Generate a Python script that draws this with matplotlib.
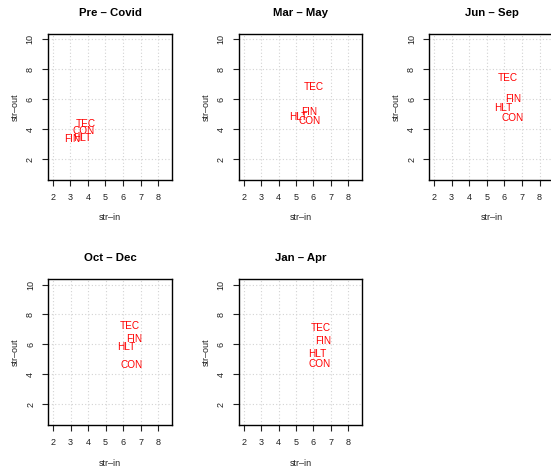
import matplotlib
matplotlib.use("Agg")
import matplotlib.pyplot as plt

plt.rcParams['font.family'] = ['Liberation Sans', 'DejaVu Sans']

titles = ["Pre – Covid", "Mar – May", "Jun – Sep", "Oct – Dec", "Jan – Apr"]
sectors = ["TEC", "CON", "FIN", "HLT"]
str_in = [
    [3.89, 3.74, 3.08, 3.65],
    [6.00, 5.77, 5.77, 5.11],
    [6.17, 6.49, 6.49, 5.96],
    [6.39, 6.49, 6.64, 6.20],
    [6.44, 6.34, 6.53, 6.21],
]
str_out = [
    [4.33, 3.89, 3.33, 3.40],
    [6.80, 4.57, 5.17, 4.80],
    [7.44, 4.73, 6.00, 5.40],
    [7.24, 4.64, 6.37, 5.84],
    [7.13, 4.67, 6.22, 5.33],
]
x_ticks = [2, 3, 4, 5, 6, 7, 8]
y_ticks = [2, 4, 6, 8, 10]

W, H = 551, 466
fig = plt.figure(figsize=(W / 100, H / 100), dpi=100)

# pixel boxes: left, right, top, bottom
boxes = [
    (48, 172.3, 34, 180),
    (239, 362.3, 34, 180),
    (429.3, 553.6, 34, 180),
    (48.3, 172.3, 279.3, 425),
    (239, 362.3, 279.3, 425),
]

for i, (l, r, t, b) in enumerate(boxes):
    ax = fig.add_axes([l / W, (H - b) / H, (r - l) / W, (b - t) / H])
    ax.set_xlim(1.73, 8.8)
    ax.set_ylim(0.62, 10.35)
    ax.set_xticks(x_ticks)
    ax.set_yticks(y_ticks)
    ax.grid(True, color='#d3d3d3', linestyle=(0, (1, 2)), linewidth=0.8)
    ax.set_axisbelow(True)
    for sp in ax.spines.values():
        sp.set_linewidth(1.0)
        sp.set_color('black')
    ax.tick_params(direction='out', length=4.5, width=0.8, labelsize=6.5, pad=5, colors='#222222')
    for lab in ax.get_yticklabels():
        lab.set_rotation(90)
        lab.set_va('center')
    for s, xv, yv in zip(sectors, str_in[i], str_out[i]):
        ax.text(xv, yv, s, color='#ff0000', fontsize=7.2, ha='center', va='center')
    hpx = b - t
    wpx = r - l
    ax.text(0.5, 1 + 18 / hpx, titles[i], transform=ax.transAxes, ha='center',
            va='baseline', fontsize=8.2, fontweight='bold')
    ax.text(0.5, -38 / hpx, "str–in", transform=ax.transAxes, ha='center',
            va='center', fontsize=6.5, color='#222222')
    ax.text(-33 / wpx, 0.5, "str–out", transform=ax.transAxes, ha='center',
            va='center', rotation=90, fontsize=6.5, color='#222222')

fig.savefig("out.png", dpi=100)
